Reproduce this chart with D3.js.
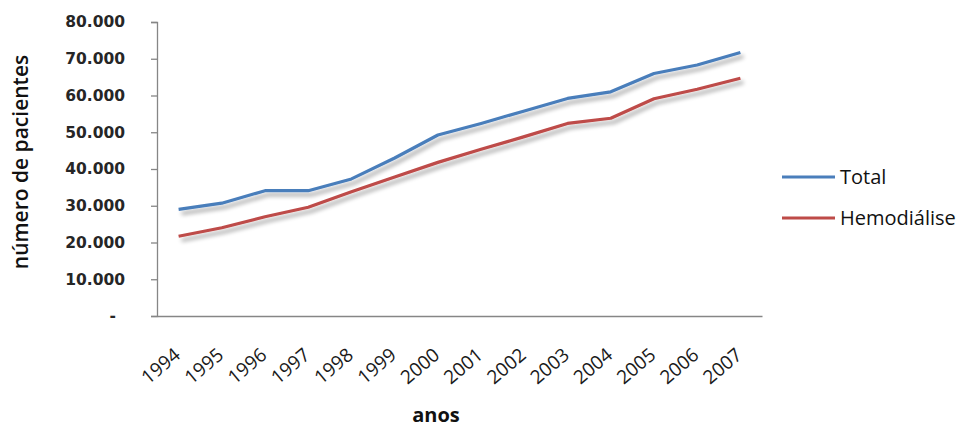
<!DOCTYPE html>
<html>
<head>
<meta charset="utf-8">
<script src="https://cdn.jsdelivr.net/npm/d3@7"></script>
<style>
  html, body { margin: 0; padding: 0; background: #fff; }
  svg { display: block; }
</style>
</head>
<body>
<svg id="chart" width="960" height="428"></svg>
<script>
// Pacientes em diálise no Brasil, 1994–2007
const years = ["1994","1995","1996","1997","1998","1999","2000","2001","2002","2003","2004","2005","2006","2007"];
const total = [29000, 30700, 34100, 34100, 37300, 43000, 49250, 52400, 55800, 59200, 61000, 66000, 68300, 71700];
const hemodialise = [21700, 24000, 27000, 29600, 33800, 37800, 41800, 45350, 48800, 52400, 53800, 59100, 61700, 64700];
const yTicks = [0, 10000, 20000, 30000, 40000, 50000, 60000, 70000, 80000];
const seriesNames = ["Total", "Hemodiálise"];
const seriesColors = ["#4a7ebb", "#be4b48"];

const svg = d3.select("#chart");
const plot = { left: 157, right: 762, top: 22, bottom: 316 };

const x = d3.scaleBand().domain(years).range([plot.left, plot.right]);
const y = d3.scaleLinear().domain([0, 80000]).range([plot.bottom, plot.top]);

// soft drop shadow under the lines
const defs = svg.append("defs");
const f = defs.append("filter").attr("id", "shadow")
  .attr("x", "-5%").attr("y", "-20%").attr("width", "110%").attr("height", "140%");
f.append("feGaussianBlur").attr("in", "SourceAlpha").attr("stdDeviation", 2).attr("result", "b");
f.append("feOffset").attr("in", "b").attr("dx", 3).attr("dy", 4).attr("result", "o");
f.append("feComponentTransfer").attr("in", "o").attr("result", "s")
  .append("feFuncA").attr("type", "linear").attr("slope", 0.35);
const m = f.append("feMerge");
m.append("feMergeNode").attr("in", "s");
m.append("feMergeNode").attr("in", "SourceGraphic");

const numFmt = v => v === 0 ? "-" : d3.format(",")(v).replace(/,/g, ".");

// y axis
const yAxis = svg.append("g")
  .attr("transform", `translate(${plot.left},0)`)
  .call(d3.axisLeft(y).tickValues(yTicks).tickSize(6).tickPadding(26).tickFormat(numFmt));
yAxis.select(".domain").attr("stroke", "#868686").attr("stroke-width", 1.3);
yAxis.selectAll(".tick line").attr("stroke", "#868686").attr("stroke-width", 1.3);
yAxis.selectAll(".tick text")
  .attr("font-family", "'DejaVu Sans', Verdana, sans-serif")
  .attr("font-weight", "bold")
  .attr("font-size", 15.5)
  .attr("fill", "#262626")
  .attr("dx", d => d === 0 ? -9 : 0);

// x axis
const xAxis = svg.append("g")
  .attr("transform", `translate(0,${plot.bottom})`)
  .call(d3.axisBottom(x).tickSize(0).tickPadding(0));
xAxis.select(".domain").attr("stroke", "#868686").attr("stroke-width", 1.3);
xAxis.selectAll(".tick text")
  .attr("font-family", "'Open Sans', sans-serif")
  .attr("font-size", 19)
  .attr("fill", "#1a1a1a")
  .attr("text-anchor", "end")
  .attr("dy", 0)
  .attr("y", 0)
  .attr("transform", "translate(3,41) rotate(-40)");

// lines
const line = d3.line().x((d, i) => x(years[i]) + x.bandwidth() / 2).y(d => y(d));
[total, hemodialise].forEach((s, k) => {
  svg.append("path")
    .datum(s)
    .attr("d", line)
    .attr("fill", "none")
    .attr("stroke", seriesColors[k])
    .attr("stroke-width", 3.2)
    .attr("stroke-linejoin", "round")
    .attr("filter", "url(#shadow)");
});

// axis titles
svg.append("text")
  .attr("transform", "translate(28,162) rotate(-90)")
  .attr("text-anchor", "middle")
  .attr("font-family", "'Open Sans', sans-serif")
  .attr("font-weight", 600)
  .attr("font-size", 21)
  .attr("fill", "#111")
  .text("número de pacientes");

svg.append("text")
  .attr("x", 436).attr("y", 422)
  .attr("text-anchor", "middle")
  .attr("font-family", "'Open Sans', sans-serif")
  .attr("font-weight", "bold")
  .attr("font-size", 20)
  .attr("fill", "#111")
  .text("anos");

// legend
const legend = svg.append("g");
const legendY = d3.scalePoint().domain(seriesNames).range([177, 218]);
seriesNames.forEach((name, k) => {
  const ly = legendY(name);
  legend.append("line")
    .attr("x1", 782).attr("x2", 835).attr("y1", ly).attr("y2", ly)
    .attr("stroke", seriesColors[k]).attr("stroke-width", 3.2);
  legend.append("text")
    .attr("x", 840).attr("y", ly + 7)
    .attr("font-family", "'Open Sans', sans-serif")
    .attr("font-size", 20)
    .attr("fill", "#111")
    .text(name);
});
</script>
</body>
</html>
